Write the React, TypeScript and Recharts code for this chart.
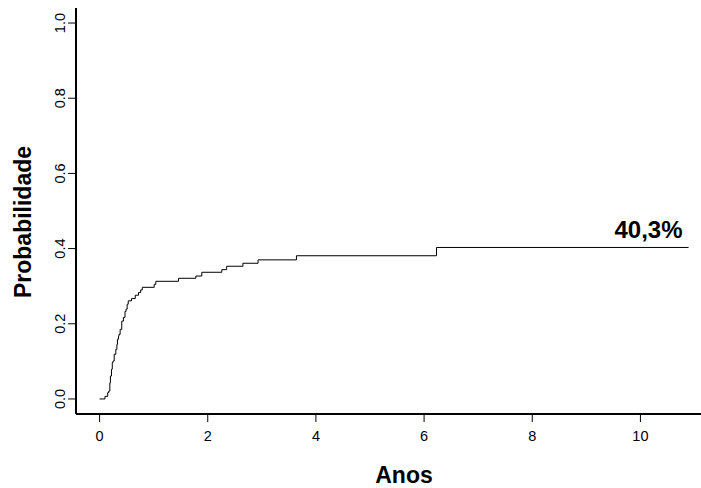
import { LineChart, Line, XAxis, YAxis, Label, LabelList } from 'recharts';

// cumulative incidence estimate (step function), time in years
const times = [
  0, 0.10, 0.15, 0.17, 0.19, 0.20, 0.22, 0.235, 0.25, 0.27, 0.30, 0.32, 0.33,
  0.35, 0.36, 0.38, 0.41, 0.44, 0.47, 0.49, 0.51, 0.53, 0.59, 0.66, 0.72, 0.76,
  0.79, 1.01, 1.04, 1.46, 1.78, 1.89, 2.26, 2.35, 2.65, 2.93, 3.64, 6.23, 10.89,
];
const probs = [
  0, 0.007, 0.017, 0.021, 0.043, 0.061, 0.079, 0.097, 0.101, 0.119, 0.132, 0.145,
  0.159, 0.167, 0.172, 0.185, 0.207, 0.217, 0.233, 0.239, 0.252, 0.261, 0.267,
  0.276, 0.283, 0.29, 0.297, 0.305, 0.313, 0.321, 0.327, 0.337, 0.344, 0.353,
  0.361, 0.37, 0.381, 0.403, 0.403,
];
const xTicks = [0, 2, 4, 6, 8, 10];
const yTicks = [0, 0.2, 0.4, 0.6, 0.8, 1.0];

const data = times.map((t, i) => ({ t, p: probs[i] }));

const FONT = '"Liberation Sans", Arial, sans-serif';
const TITLE_SIZE = 23;

const fmtPct = (v: number) => (v * 100).toFixed(1).replace('.', ',') + '%';

function XTick({ x, y, payload }: any) {
  return (
    <text x={x} y={y + 14} dy="0.355em" textAnchor="middle" fontFamily={FONT} fontSize={14.5} fill="#000">
      {payload.value}
    </text>
  );
}

function YTick({ x, y, payload }: any) {
  const cx = x - 8;
  return (
    <text
      x={cx}
      y={y}
      dy="0.355em"
      textAnchor="middle"
      transform={`rotate(-90, ${cx}, ${y})`}
      fontFamily={FONT}
      fontSize={14.5}
      fill="#000"
    >
      {payload.value.toFixed(1)}
    </text>
  );
}

function EndLabel({ x, y, index, value }: any) {
  if (index !== data.length - 1) return null;
  return (
    <text x={x - 6} y={y - 9} textAnchor="end" fontFamily={FONT} fontSize={24} fontWeight="bold" fill="#000">
      {fmtPct(value)}
    </text>
  );
}

export default function App() {
  return (
    <div style={{ position: 'absolute', left: 0, top: 0, width: 701, height: 488, overflow: 'hidden', background: '#fff' }}>
      <LineChart width={701} height={488} data={data} margin={{ top: 8, right: 0, bottom: 0, left: 0 }}>
        <XAxis
          type="number"
          dataKey="t"
          domain={[-0.436, 11.12]}
          ticks={xTicks}
          allowDataOverflow
          height={74}
          tickSize={8}
          tickMargin={0}
          tick={<XTick />}
          axisLine={{ stroke: '#000', strokeWidth: 2 }}
          tickLine={{ stroke: '#000', strokeWidth: 1 }}
        >
          <Label
            content={({ viewBox }: any) => (
              <text x={viewBox.x + 328} y={viewBox.y + 69} textAnchor="middle" fontFamily={FONT} fontSize={TITLE_SIZE} fontWeight="bold" fill="#000">
                Anos
              </text>
            )}
          />
        </XAxis>
        <YAxis
          type="number"
          domain={[-0.04, 1.04]}
          ticks={yTicks}
          allowDataOverflow
          width={76}
          tickSize={8}
          tickMargin={0}
          tick={<YTick />}
          axisLine={{ stroke: '#000', strokeWidth: 2 }}
          tickLine={{ stroke: '#000', strokeWidth: 1 }}
        >
          <Label
            content={({ viewBox }: any) => {
              const cx = 23;
              const cy = viewBox.y + 214;
              return (
                <text
                  x={cx}
                  y={cy}
                  dy="0.355em"
                  textAnchor="middle"
                  transform={`rotate(-90, ${cx}, ${cy})`}
                  fontFamily={FONT}
                  fontSize={TITLE_SIZE}
                  fontWeight="bold"
                  fill="#000"
                >
                  Probabilidade
                </text>
              );
            }}
          />
        </YAxis>
        <Line
          type="stepAfter"
          dataKey="p"
          stroke="#000"
          strokeWidth={1}
          dot={false}
          isAnimationActive={false}
        >
          <LabelList dataKey="p" content={<EndLabel />} />
        </Line>
      </LineChart>
    </div>
  );
}
